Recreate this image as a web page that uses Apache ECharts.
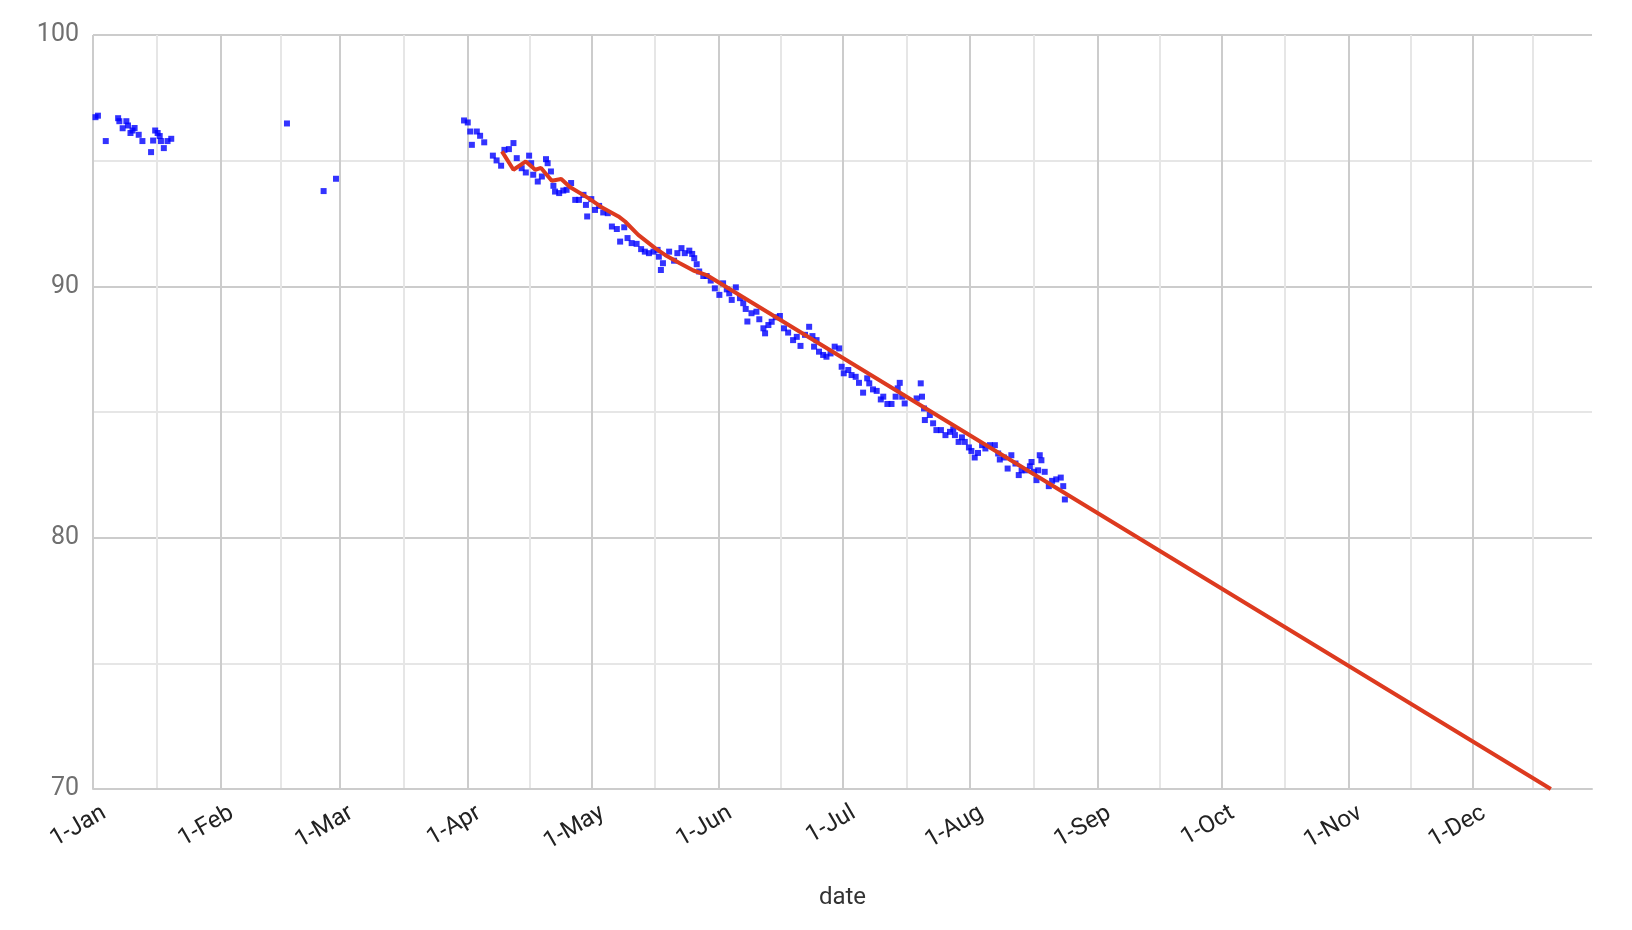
<!DOCTYPE html>
<html>
<head>
<meta charset="utf-8">
<script src="https://cdn.jsdelivr.net/npm/echarts@6/dist/echarts.min.js"></script>
<style>
  html, body { margin: 0; padding: 0; background: #ffffff; }
  #chart { width: 1632px; height: 930px; }
</style>
</head>
<body>
<div id="chart"></div>
<script>
// ---- data (day offsets from 1-Jan-2020) ----
const yearStart = [2020, 0, 1];
const axisEndDay = 364;            // 30-Dec
const monthNames = ['Jan','Feb','Mar','Apr','May','Jun','Jul','Aug','Sep','Oct','Nov','Dec'];
const yTicks = [70, 80, 90, 100];

const measuredDays = [
  0.6, 1.2, 3.1, 6.1, 6.4, 7.2, 8.1, 8.5, 9.1, 9.6, 10.1, 11.1, 12.0, 14.1, 14.6, 15.1, 15.7, 16.2, 16.5, 17.2, 18.1, 19.0,
  47.1, 56.0, 59.0,
  90.1, 91.0, 91.6, 92.0, 93.2, 94.0, 95.0, 97.1, 98.0, 99.1, 99.9, 101.0, 102.1, 102.9, 104.1, 105.1, 105.9, 106.4, 106.9,
  108.0, 109.0, 110.0, 110.4, 111.2, 111.8, 112.2, 113.2, 114.2, 115.0, 116.1, 117.1, 118.0, 119.1, 119.7, 120.0, 121.0,
  121.9, 122.9, 123.9, 125.0, 126.0, 127.2, 128.0, 129.0, 129.8, 130.8, 132.0, 133.1, 134.0, 135.0, 136.1, 137.1, 137.4,
  137.9, 138.4,
  139.9, 141.1, 141.9, 142.9, 143.7, 144.8, 145.5, 146.0, 146.6, 147.2, 148.2, 149.0, 150.0, 151.0, 152.1, 153.0, 153.9,
  154.5, 155.1, 156.1, 157.1, 157.9, 158.5, 158.9, 159.9, 161.1, 161.8, 162.8, 163.2, 164.0, 164.8, 165.8, 166.8, 167.8,
  168.8, 170.0, 170.9, 171.8, 172.9, 173.9, 174.7, 175.1, 175.7, 176.3, 177.3, 178.1, 179.1, 180.1, 181.2, 181.8, 182.3,
  183.4, 184.2, 185.2, 186.0, 187.0, 188.0, 188.5,
  189.4, 190.3, 191.3, 191.9, 192.9, 193.9, 194.9, 195.4, 195.9, 196.5, 197.1, 200.0, 201.0, 201.3, 201.8, 202.0, 203.2,
  204.0, 204.8, 205.9, 207.0, 208.1, 208.9, 209.3, 210.2, 211.0, 211.7, 212.7, 213.3, 214.1, 214.9, 215.9, 216.7, 217.8,
  219.0, 219.8, 220.2, 221.2, 222.1, 223.0, 224.0, 224.8, 225.5, 226.4, 227.5, 227.9, 228.5, 229.1, 229.5, 229.9, 230.3,
  231.1, 232.1, 232.9, 233.9, 235.0, 235.6, 236.0
];
const measuredWeights = [
  96.73, 96.79, 95.78, 96.69, 96.57, 96.29, 96.57, 96.40, 96.10, 96.20, 96.30, 96.03, 95.78, 95.34, 95.80, 96.20, 96.10, 95.98, 95.78, 95.50, 95.78, 95.87,
  96.48, 93.79, 94.28,
  96.60, 96.52, 96.16, 95.63, 96.16, 95.99, 95.73, 95.20, 95.01, 94.80, 95.43, 95.46, 95.70, 95.10, 94.70, 94.53, 95.20, 94.90, 94.44,
  94.17, 94.37, 95.06, 94.90, 94.57, 94.00, 93.77, 93.71, 93.81, 93.84, 94.11, 93.44, 93.44, 93.64, 93.24, 92.78, 93.47,
  93.04, 93.20, 92.94, 92.91, 92.38, 92.28, 91.78, 92.35, 91.92, 91.72, 91.69, 91.48, 91.38, 91.32, 91.38, 91.45, 91.18,
  90.65, 90.92,
  91.38, 91.02, 91.32, 91.52, 91.32, 91.42, 91.29, 91.12, 90.88, 90.59, 90.41, 90.41, 90.23, 89.92, 89.66, 90.12, 89.88,
  89.72, 89.46, 89.96, 89.53, 89.33, 89.10, 88.60, 88.93, 88.99, 88.69, 88.33, 88.13, 88.46, 88.59, 88.77, 88.82, 88.33,
  88.16, 87.86, 87.99, 87.63, 88.07, 88.39, 88.02, 87.60, 87.86, 87.40, 87.27, 87.20, 87.33, 87.60, 87.53, 86.80, 86.54,
  86.67, 86.47, 86.40, 86.16, 85.77, 86.34, 86.14,
  85.90, 85.84, 85.50, 85.61, 85.32, 85.32, 85.61, 85.94, 86.16, 85.61, 85.34, 85.54, 86.14, 85.61, 85.14, 84.68, 84.88,
  84.55, 84.28, 84.28, 84.08, 84.21, 84.31, 84.08, 83.81, 83.99, 83.81, 83.59, 83.45, 83.19, 83.37, 83.68, 83.55, 83.68,
  83.68, 83.35, 83.11, 83.19, 82.75, 83.28, 82.95, 82.49, 82.68, 82.68, 82.84, 83.01, 82.62, 82.29, 82.68, 83.28, 83.08,
  82.62, 82.05, 82.26, 82.32, 82.39, 82.05, 81.52
];

const trendDays = [99.3, 102.1, 105.1, 107.4, 108.8, 111.4, 113.7, 115.8, 120.3, 123.5, 127.6, 129.2, 132.4, 136.5, 138.9, 142.5, 145.8, 149.0, 354.0];
const trendWeights = [95.37, 94.64, 94.97, 94.64, 94.71, 94.20, 94.27, 93.95, 93.51, 93.15, 92.78, 92.58, 92.05, 91.52, 91.25, 90.92, 90.63, 90.45, 70.00];

// ---- build chart ----
const DAY_MS = 86400000;
const startMs = new Date(yearStart[0], yearStart[1], yearStart[2]).getTime();
const toMs = d => startMs + d * DAY_MS;

const scatterData = measuredDays.map((d, i) => [toMs(d), measuredWeights[i]]);
const trendData = trendDays.map((d, i) => [toMs(d), trendWeights[i]]);

const chart = echarts.init(document.getElementById('chart'), null, { renderer: 'canvas' });
chart.setOption({
  animation: false,
  backgroundColor: '#ffffff',
  textStyle: { fontFamily: 'Roboto' },
  grid: { left: 93, right: 40, top: 35, bottom: 141, containLabel: false },
  xAxis: {
    type: 'time',
    min: startMs,
    max: toMs(axisEndDay),
    minInterval: 28 * DAY_MS,
    maxInterval: 31 * DAY_MS,
    splitNumber: 12,
    name: 'date',
    nameLocation: 'middle',
    nameGap: 97,
    nameTextStyle: { fontSize: 24, color: '#333333', fontFamily: 'Roboto' },
    axisLine: { show: true, lineStyle: { color: '#cccccc', width: 2 } },
    axisTick: { show: false },
    minorTick: { show: false, splitNumber: 2 },
    axisLabel: {
      rotate: 30,
      fontSize: 24,
      color: '#222222',
      fontFamily: 'Roboto',
      margin: 29,
      padding: [0, -13, 0, 0],
      showMaxLabel: false,
      hideOverlap: false,
      formatter: function (val) {
        const dt = new Date(val);
        if (dt.getDate() !== 1) return '';
        return '1-' + monthNames[dt.getMonth()];
      }
    },
    splitLine: { show: true, showMaxLine: false, lineStyle: { color: '#cccccc', width: 2 } },
    minorSplitLine: { show: true, lineStyle: { color: '#e6e6e6', width: 2 } }
  },
  yAxis: {
    type: 'value',
    min: yTicks[0],
    max: yTicks[yTicks.length - 1],
    interval: 10,
    axisLine: { show: false },
    axisTick: { show: false },
    minorTick: { show: false, splitNumber: 2 },
    axisLabel: { fontSize: 25, color: '#707070', fontFamily: 'Roboto', margin: 14 },
    splitLine: { show: true, lineStyle: { color: '#cccccc', width: 2 } },
    minorSplitLine: { show: true, lineStyle: { color: '#e6e6e6', width: 2 } }
  },
  series: [
    {
      name: 'weight',
      type: 'scatter',
      data: scatterData,
      symbol: 'rect',
      symbolSize: 6,
      itemStyle: { color: '#0000ff' },
      z: 2
    },
    {
      name: 'trend',
      type: 'line',
      data: trendData,
      showSymbol: false,
      lineStyle: { color: '#dd3a1f', width: 4 },
      itemStyle: { color: '#dd3a1f' },
      z: 3
    }
  ]
});
</script>
</body>
</html>
